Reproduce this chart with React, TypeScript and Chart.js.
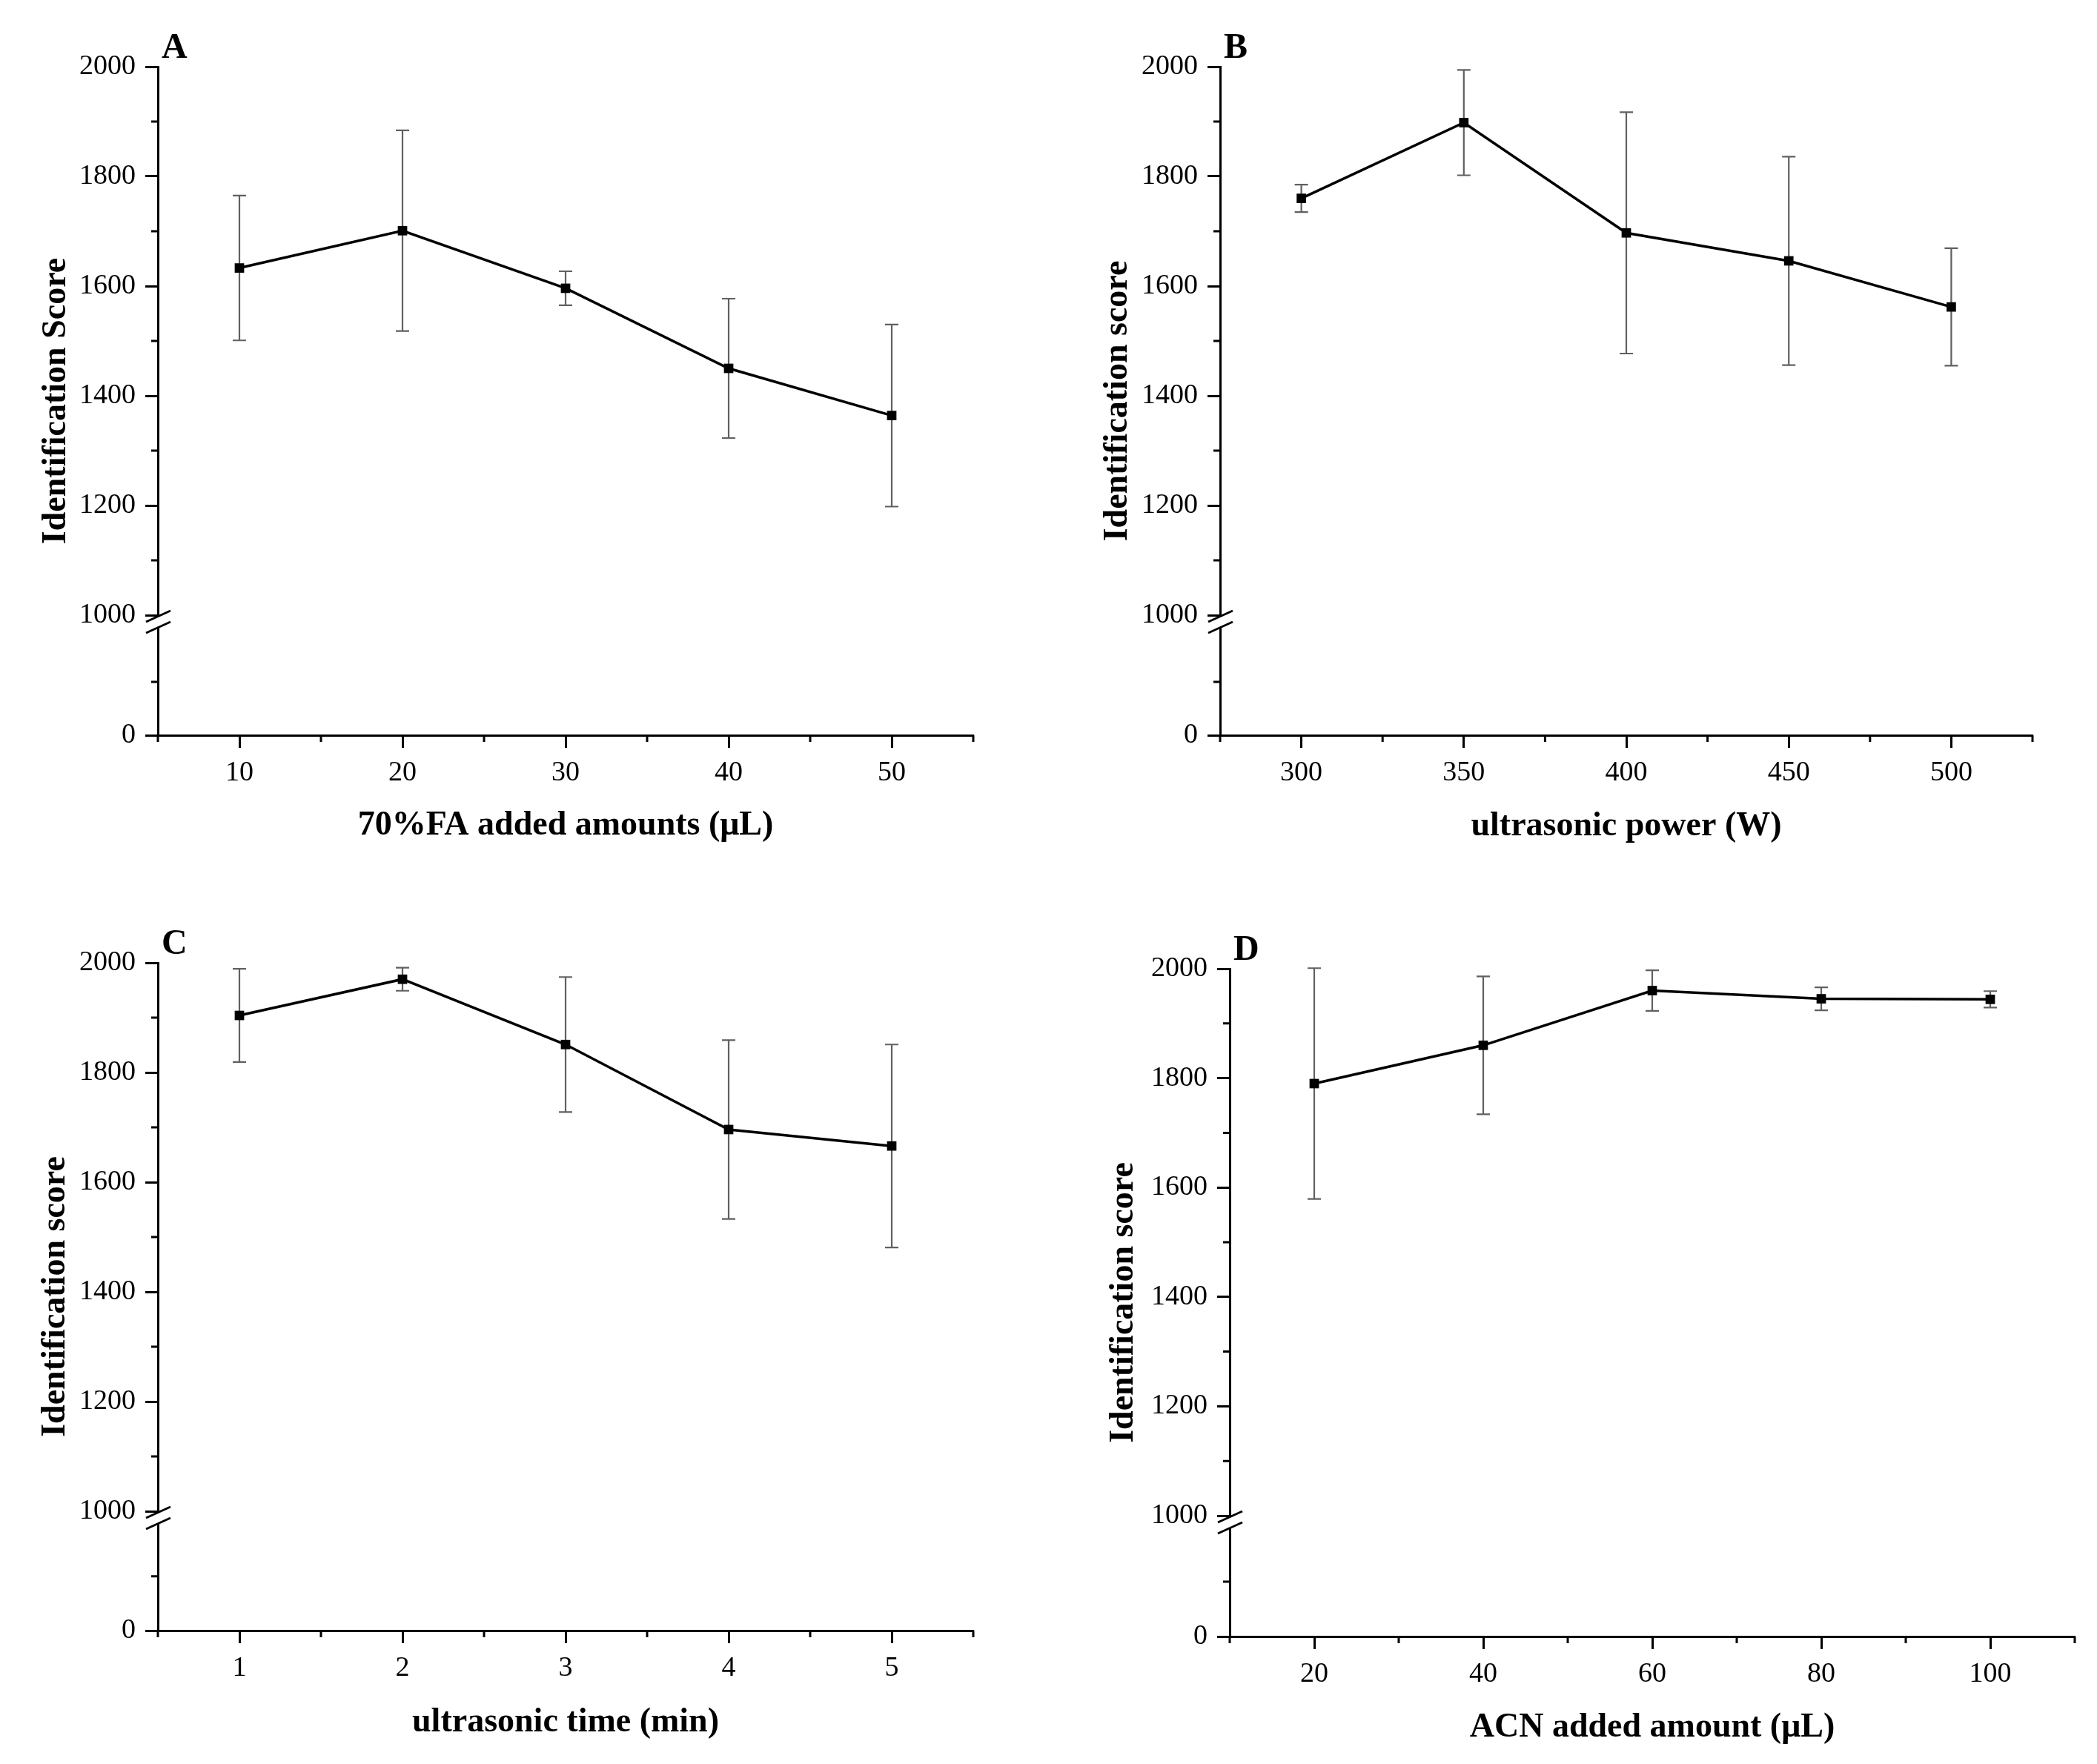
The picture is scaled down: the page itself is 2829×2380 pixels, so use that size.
import React, { useEffect, useRef } from 'react';
import { Chart, registerables } from 'chart.js';

Chart.register(...registerables);

const FONT = "'Liberation Serif', 'Times New Roman', serif";

// ---- Panel A: 70%FA added amounts ----
const xA = [10, 20, 30, 40, 50];
const meanA = [1633, 1701, 1596, 1450, 1364];
const errA = [132, 183, 31, 127, 166];
const xTicksA = [10, 20, 30, 40, 50];
const xMinorA = [5, 15, 25, 35, 45, 55];

// ---- Panel B: ultrasonic power ----
const xB = [300, 350, 400, 450, 500];
const meanB = [1760, 1898, 1697, 1646, 1562];
const errB = [25, 96, 220, 190, 107];
const xTicksB = [300, 350, 400, 450, 500];
const xMinorB = [275, 325, 375, 425, 475, 525];

// ---- Panel C: ultrasonic time ----
const xC = [1, 2, 3, 4, 5];
const meanC = [1904, 1970, 1851, 1696, 1666];
const errC = [85, 21, 123, 163, 185];
const xTicksC = [1, 2, 3, 4, 5];
const xMinorC = [0.5, 1.5, 2.5, 3.5, 4.5, 5.5];

// ---- Panel D: ACN added amount ----
const xD = [20, 40, 60, 80, 100];
const meanD = [1790, 1860, 1960, 1945, 1944];
const errD = [211, 126, 37, 21, 15];
const xTicksD = [20, 40, 60, 80, 100];
const xMinorD = [10, 30, 50, 70, 90, 110];

// ---- shared y axis ticks (broken axis) ----
const yTicksTop = [1000, 1200, 1400, 1600, 1800, 2000];
const yMinorTop = [1100, 1300, 1500, 1700, 1900];
const yTicksLow = [0];
const yMinorLow = [500];

type Panel = {
  x: number[]; mean: number[]; err: number[];
  xTicks: number[]; xMinor: number[]; xMin: number; xMax: number;
  lowMax: number; letter: string; xTitle: string; yTitle: string;
  rect: { left: number; top: number; w: number; h: number };
  area: { left: number; top: number; right: number; bottom: number };
  topH: number; lowH: number; yTitleOff: number; xTitleOff: number;
};

const panels: Panel[] = [
  {
    x: xA, mean: meanA, err: errA, xTicks: xTicksA, xMinor: xMinorA, xMin: 5, xMax: 55,
    lowMax: 1125, letter: 'A', xTitle: '70%FA added amounts (\u03bcL)', yTitle: 'Identification Score',
    rect: { left: 0, top: 0, w: 1414, h: 1190 },
    area: { left: 213, top: 90, right: 1313, bottom: 992 },
    topH: 740, lowH: 162, yTitleOff: 137, xTitleOff: 122,
  },
  {
    x: xB, mean: meanB, err: errB, xTicks: xTicksB, xMinor: xMinorB, xMin: 275, xMax: 525,
    lowMax: 1125, letter: 'B', xTitle: 'ultrasonic power (W)', yTitle: 'Identification score',
    rect: { left: 1414, top: 0, w: 1415, h: 1190 },
    area: { left: 232, top: 90, right: 1328, bottom: 992 },
    topH: 740, lowH: 162, yTitleOff: 138, xTitleOff: 123,
  },
  {
    x: xC, mean: meanC, err: errC, xTicks: xTicksC, xMinor: xMinorC, xMin: 0.5, xMax: 5.5,
    lowMax: 1100, letter: 'C', xTitle: 'ultrasonic time (min)', yTitle: 'Identification score',
    rect: { left: 0, top: 1190, w: 1414, h: 1190 },
    area: { left: 213, top: 109, right: 1313, bottom: 1010 },
    topH: 740, lowH: 161, yTitleOff: 138, xTitleOff: 124,
  },
  {
    x: xD, mean: meanD, err: errD, xTicks: xTicksD, xMinor: xMinorD, xMin: 10, xMax: 110,
    lowMax: 1100, letter: 'D', xTitle: 'ACN added amount (\u03bcL)', yTitle: 'Identification score',
    rect: { left: 1414, top: 1190, w: 1415, h: 1190 },
    area: { left: 245, top: 117, right: 1385, bottom: 1018 },
    topH: 738, lowH: 163, yTitleOff: 143, xTitleOff: 123,
  },
];

function makePlugin(p: Panel) {
  return {
    id: 'decor' + p.letter,
    beforeDatasetsDraw(chart: any) {
      const ctx = chart.ctx;
      const xs = chart.scales.x;
      const ys = chart.scales.y;
      ctx.save();
      ctx.strokeStyle = '#606060';
      ctx.lineWidth = 2.2;
      p.x.forEach((xv, i) => {
        const px = xs.getPixelForValue(xv);
        const pt = ys.getPixelForValue(p.mean[i] + p.err[i]);
        const pb = ys.getPixelForValue(p.mean[i] - p.err[i]);
        ctx.beginPath();
        ctx.moveTo(px, pt); ctx.lineTo(px, pb);
        ctx.moveTo(px - 9, pt); ctx.lineTo(px + 9, pt);
        ctx.moveTo(px - 9, pb); ctx.lineTo(px + 9, pb);
        ctx.stroke();
      });
      ctx.restore();
    },
    afterDraw(chart: any) {
      const ctx = chart.ctx;
      const xs = chart.scales.x;
      const ys = chart.scales.y;
      const yl = chart.scales.yLow;
      const { left, right, top, bottom } = chart.chartArea;
      ctx.save();
      ctx.strokeStyle = '#000';
      ctx.lineWidth = 3;
      ctx.beginPath();
      p.xMinor.forEach((v) => {
        const px = xs.getPixelForValue(v);
        ctx.moveTo(px, bottom); ctx.lineTo(px, bottom + 9);
      });
      yMinorTop.forEach((v) => {
        const py = ys.getPixelForValue(v);
        ctx.moveTo(left - 9, py); ctx.lineTo(left, py);
      });
      yMinorLow.forEach((v) => {
        const py = yl.getPixelForValue(v);
        ctx.moveTo(left - 9, py); ctx.lineTo(left, py);
      });
      ctx.stroke();

      // axis break marks
      const c1 = ys.bottom + 2;
      const c2 = c1 + 15;
      ctx.fillStyle = '#fff';
      ctx.fillRect(left - 3, c1, 6, c2 - c1);
      ctx.beginPath();
      ctx.moveTo(left - 16, c1 + 7); ctx.lineTo(left + 17, c1 - 8);
      ctx.moveTo(left - 16, c2 + 7); ctx.lineTo(left + 17, c2 - 8);
      ctx.stroke();

      // panel letter
      ctx.fillStyle = '#000';
      ctx.font = `bold 48px ${FONT}`;
      ctx.textAlign = 'left';
      ctx.textBaseline = 'alphabetic';
      ctx.fillText(p.letter, left + 5, top - 12);

      // x title
      ctx.font = `bold 46px ${FONT}`;
      ctx.textAlign = 'center';
      ctx.textBaseline = 'middle';
      ctx.fillText(p.xTitle, (left + right) / 2, bottom + p.xTitleOff);

      // y title
      ctx.translate(left - p.yTitleOff, (top + bottom) / 2);
      ctx.rotate(-Math.PI / 2);
      ctx.fillText(p.yTitle, 0, 0);
      ctx.restore();
    },
  };
}

function buildConfig(p: Panel): any {
  const tickFont = { family: FONT, size: 38 };
  const grid = { display: true, drawOnChartArea: false, drawTicks: true, tickLength: 17, tickWidth: 3, tickColor: '#000' };
  const border = { display: true, width: 3, color: '#000' };
  return {
    type: 'line',
    data: {
      datasets: [
        {
          data: p.x.map((v, i) => ({ x: v, y: p.mean[i] })),
          borderColor: '#000',
          backgroundColor: '#000',
          borderWidth: 3.5,
          pointStyle: 'rect',
          pointRadius: 9,
          pointBackgroundColor: '#000',
          pointBorderWidth: 0,
          tension: 0,
          xAxisID: 'x',
          yAxisID: 'y',
          clip: false,
        },
      ],
    },
    options: {
      responsive: false,
      animation: false,
      devicePixelRatio: 1,
      layout: { padding: { left: 0, top: p.area.top, right: p.rect.w - p.area.right, bottom: 0 } },
      plugins: { legend: { display: false }, tooltip: { enabled: false } },
      scales: {
        x: {
          type: 'linear', position: 'bottom', min: p.xMin, max: p.xMax, bounds: 'data',
          afterBuildTicks: (s: any) => { s.ticks = p.xTicks.map((v) => ({ value: v })); },
          afterFit: (s: any) => { s.height = p.rect.h - p.area.bottom; },
          grid, border,
          ticks: { font: tickFont, color: '#000', padding: 11, maxRotation: 0, autoSkip: false, callback: (v: any) => String(v) },
        },
        y: {
          type: 'linear', position: 'left', stack: 'ybreak', stackWeight: p.topH, weight: 1,
          min: 1000, max: 2000, bounds: 'data',
          afterBuildTicks: (s: any) => { s.ticks = yTicksTop.map((v) => ({ value: v })); },
          afterFit: (s: any) => { s.width = p.area.left; },
          grid, border,
          ticks: { font: tickFont, color: '#000', padding: 13, autoSkip: false, callback: (v: any) => String(v) },
        },
        yLow: {
          type: 'linear', position: 'left', stack: 'ybreak', stackWeight: p.lowH, weight: 0,
          min: 0, max: p.lowMax, bounds: 'data',
          afterBuildTicks: (s: any) => { s.ticks = yTicksLow.map((v) => ({ value: v })); },
          afterFit: (s: any) => { s.width = p.area.left; },
          grid, border,
          ticks: { font: tickFont, color: '#000', padding: 13, autoSkip: false, callback: (v: any) => String(v) },
        },
      },
    },
    plugins: [makePlugin(p)],
  };
}

function PanelChart({ p }: { p: Panel }) {
  const ref = useRef<HTMLCanvasElement | null>(null);
  useEffect(() => {
    if (!ref.current) return;
    const chart = new Chart(ref.current, buildConfig(p));
    return () => chart.destroy();
  }, [p]);
  return (
    <canvas
      ref={ref}
      width={p.rect.w}
      height={p.rect.h}
      style={{ position: 'absolute', left: p.rect.left, top: p.rect.top, width: p.rect.w, height: p.rect.h }}
    />
  );
}

export default function App() {
  return (
    <div style={{ position: 'absolute', left: 0, top: 0, width: 2829, height: 2380, background: '#fff' }}>
      {panels.map((p) => (
        <PanelChart key={p.letter} p={p} />
      ))}
    </div>
  );
}
